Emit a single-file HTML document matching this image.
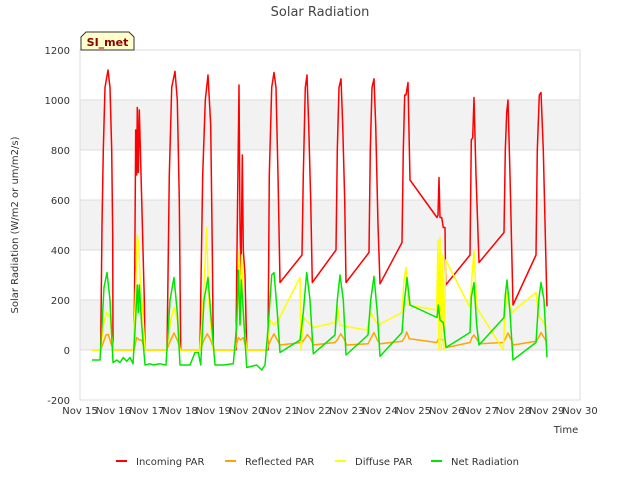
<!DOCTYPE html>
<html><head><meta charset="utf-8"><style>
body{margin:0;background:#fff;font-family:"DejaVu Sans",sans-serif;}
svg text{font-family:"DejaVu Sans",sans-serif;}
</style></head><body>
<svg id="chart" width="640" height="480"></svg>
<script>
const xTicks=["Nov 15","Nov 16","Nov 17","Nov 18","Nov 19","Nov 20","Nov 21","Nov 22","Nov 23","Nov 24","Nov 25","Nov 26","Nov 27","Nov 28","Nov 29","Nov 30"];
const yTicks=[-200,0,200,400,600,800,1000,1200];
const incoming=[[0.62,0],[0.63,120],[0.66,500],[0.7,800],[0.75,1050],[0.84,1120],[0.9,1050],[0.95,800],[0.98,460],[0.99,0],[1.62,0],[1.64,300],[1.67,880],[1.7,700],[1.72,970],[1.75,710],[1.78,960],[1.85,600],[1.93,200],[1.95,0],[2.61,0],[2.63,200],[2.68,700],[2.75,1050],[2.85,1115],[2.92,1000],[2.98,600],[3.02,0],[3.6,0],[3.62,200],[3.68,700],[3.76,1000],[3.84,1100],[3.92,900],[3.97,400],[4.0,0],[4.68,0],[4.7,300],[4.77,1060],[4.8,500],[4.83,300],[4.87,780],[4.9,400],[4.95,300],[5.0,0],[5.64,0],[5.68,700],[5.75,1050],[5.82,1110],[5.88,1050],[5.94,700],[6.0,270],[6.66,380],[6.7,700],[6.76,1050],[6.81,1100],[6.86,900],[6.92,600],[6.97,270],[7.68,400],[7.72,800],[7.77,1050],[7.83,1085],[7.88,900],[7.94,600],[7.98,270],[8.67,390],[8.71,800],[8.76,1050],[8.82,1085],[8.87,900],[8.94,500],[9.0,265],[9.66,430],[9.7,800],[9.74,1020],[9.78,1020],[9.84,1070],[9.9,680],[10.71,530],[10.74,540],[10.77,690],[10.8,530],[10.85,530],[10.9,490],[10.95,490],[10.97,260],[11.7,380],[11.74,840],[11.78,850],[11.82,1010],[11.88,700],[11.97,350],[12.72,470],[12.76,800],[12.8,950],[12.84,1000],[12.9,700],[12.99,180],[13.68,380],[13.72,800],[13.78,1020],[13.83,1030],[13.9,800],[14.01,175]];
const reflected=[[0.36,0],[0.62,0],[0.7,30],[0.78,60],[0.85,62],[0.92,30],[1.0,0],[1.62,0],[1.7,50],[1.78,40],[1.85,40],[1.95,0],[2.6,0],[2.72,40],[2.82,68],[2.92,40],[3.02,0],[3.6,0],[3.72,40],[3.82,65],[3.92,40],[4.02,0],[4.65,0],[4.75,50],[4.82,40],[4.9,50],[5.0,0],[5.6,0],[5.72,40],[5.82,65],[5.92,40],[6.0,20],[6.66,30],[6.74,45],[6.82,62],[6.92,45],[7.0,20],[7.65,30],[7.74,45],[7.82,65],[7.92,45],[8.0,20],[8.64,25],[8.74,50],[8.82,70],[8.92,40],[9.0,25],[9.66,35],[9.74,50],[9.8,72],[9.88,45],[10.7,30],[10.76,45],[10.9,40],[11.0,10],[11.7,30],[11.76,50],[11.82,60],[11.92,40],[12.0,25],[12.7,30],[12.78,50],[12.84,68],[12.94,40],[13.0,20],[13.68,35],[13.76,50],[13.83,70],[13.92,50],[14.01,30]];
const diffuse=[[0.36,0],[0.62,0],[0.7,100],[0.8,150],[0.9,130],[1.0,0],[1.6,0],[1.66,200],[1.72,460],[1.76,420],[1.8,300],[1.88,150],[1.95,0],[2.6,0],[2.72,120],[2.82,170],[2.92,120],[3.0,0],[3.6,0],[3.7,200],[3.8,490],[3.86,200],[3.92,100],[4.0,0],[4.65,0],[4.72,150],[4.78,400],[4.82,100],[4.85,380],[4.92,100],[5.0,0],[5.6,0],[5.7,120],[5.82,100],[5.95,120],[6.6,290],[6.63,0],[6.7,130],[6.85,110],[7.0,90],[7.65,110],[7.72,180],[7.8,100],[7.95,95],[8.6,80],[8.72,150],[8.82,125],[8.95,100],[9.66,150],[9.72,280],[9.78,330],[9.85,180],[10.7,160],[10.74,440],[10.77,0],[10.8,450],[10.84,0],[10.88,380],[10.92,0],[10.97,360],[11.7,170],[11.75,280],[11.82,400],[11.9,170],[12.7,0],[12.75,150],[12.8,230],[12.95,150],[13.68,230],[13.75,140],[13.85,120],[14.0,90]];
const netrad=[[0.36,-40],[0.6,-40],[0.66,100],[0.72,250],[0.81,310],[0.9,200],[0.99,-50],[1.1,-40],[1.2,-50],[1.3,-30],[1.4,-45],[1.5,-30],[1.59,-55],[1.66,100],[1.72,260],[1.75,150],[1.78,260],[1.85,100],[1.95,-60],[2.1,-55],[2.2,-60],[2.4,-55],[2.58,-60],[2.7,200],[2.82,290],[2.92,150],[3.0,-60],[3.3,-60],[3.45,-10],[3.55,-10],[3.62,-60],[3.72,200],[3.84,290],[3.92,150],[4.05,-60],[4.3,-60],[4.6,-55],[4.7,100],[4.75,320],[4.8,100],[4.84,280],[4.9,150],[5.0,-70],[5.3,-60],[5.45,-80],[5.55,-60],[5.65,100],[5.75,300],[5.82,310],[5.92,150],[6.0,-10],[6.6,40],[6.7,150],[6.8,310],[6.9,200],[7.0,-15],[7.65,60],[7.72,200],[7.8,300],[7.9,200],[7.98,-20],[8.64,60],[8.72,200],[8.82,295],[8.92,150],[9.0,-25],[9.66,70],[9.72,180],[9.81,290],[9.9,180],[10.71,130],[10.75,180],[10.8,120],[10.9,110],[10.98,10],[11.7,70],[11.74,210],[11.82,270],[11.9,100],[11.97,20],[12.72,130],[12.76,220],[12.81,280],[12.9,150],[12.99,-40],[13.68,30],[13.76,200],[13.83,270],[13.92,200],[14.01,-30]];
const seriesNames=["Incoming PAR","Reflected PAR","Diffuse PAR","Net Radiation"];

const svg=document.getElementById('chart');
const NS="http://www.w3.org/2000/svg";
const L=80,R=580,T=50,B=400;
const xs=d=>L+d*(R-L)/15;
const ys=v=>B-(v+200)*(B-T)/1400;
function mk(tag,attrs,parent){const e=document.createElementNS(NS,tag);for(const k in attrs)e.setAttribute(k,attrs[k]);(parent||svg).appendChild(e);return e;}

[[0,200],[400,600],[800,1000]].forEach(b=>{
  const r=mk('rect',{x:L,y:ys(b[1]),width:R-L,height:ys(b[0])-ys(b[1]),fill:'#f2f2f2'});
  
  
});
yTicks.forEach(v=>{
  const g=mk('line',{x1:L,x2:R,y1:ys(v),y2:ys(v),stroke:'#dcdcdc','stroke-width':1});
  
  
  const t=mk('text',{x:70,y:ys(v)+4,'text-anchor':'end','font-size':10,fill:'#333'});
  t.textContent=v;
  
  
});
const frame=mk('rect',{x:L,y:T,width:R-L,height:B-T,fill:'none',stroke:'#dcdcdc'});


xTicks.forEach((s,i)=>{
  const t=mk('text',{x:xs(i),y:414,'text-anchor':'middle','font-size':10,fill:'#333'});
  t.textContent=s;
  
  
});
const colors=['#ff0000','#ffa500','#ffff00','#00e600'];
[incoming,reflected,diffuse,netrad].forEach((data,i)=>{
  const p=mk('polyline',{points:data.map(d=>xs(d[0]).toFixed(1)+','+ys(d[1]).toFixed(1)).join(' '),fill:'none',stroke:colors[i],'stroke-width':1.5,'stroke-linejoin':'round'});
  
  
});
const title=mk('text',{x:320,y:16,'text-anchor':'middle','font-size':13,fill:'#444'});
title.textContent='Solar Radiation';


const xt=mk('text',{x:566,y:433,'text-anchor':'middle','font-size':10,fill:'#333'});
xt.textContent='Time';


const yt=mk('text',{x:18,y:225,'text-anchor':'middle','font-size':10,fill:'#333',transform:'rotate(-90 18 225)'});
yt.textContent='Solar Radiation (W/m2 or um/m2/s)';


const sb=mk('polygon',{points:'81,50 81,37 86,32 129,32 134,37 134,50',fill:'#ffffcc',stroke:'#333','stroke-width':1});


const st=mk('text',{x:107.5,y:46,'text-anchor':'middle','font-size':11,'font-weight':'bold',fill:'#8b0000'});
st.textContent='SI_met';


const lx=[116,225,335,431];
seriesNames.forEach((n,i)=>{
  const l=mk('line',{x1:lx[i],x2:lx[i]+11,y1:461,y2:461,stroke:colors[i],'stroke-width':2});
  
  
  const t=mk('text',{x:lx[i]+20,y:465,'font-size':10,fill:'#333'});
  t.textContent=n;
  
  
});
</script>
</body></html>
